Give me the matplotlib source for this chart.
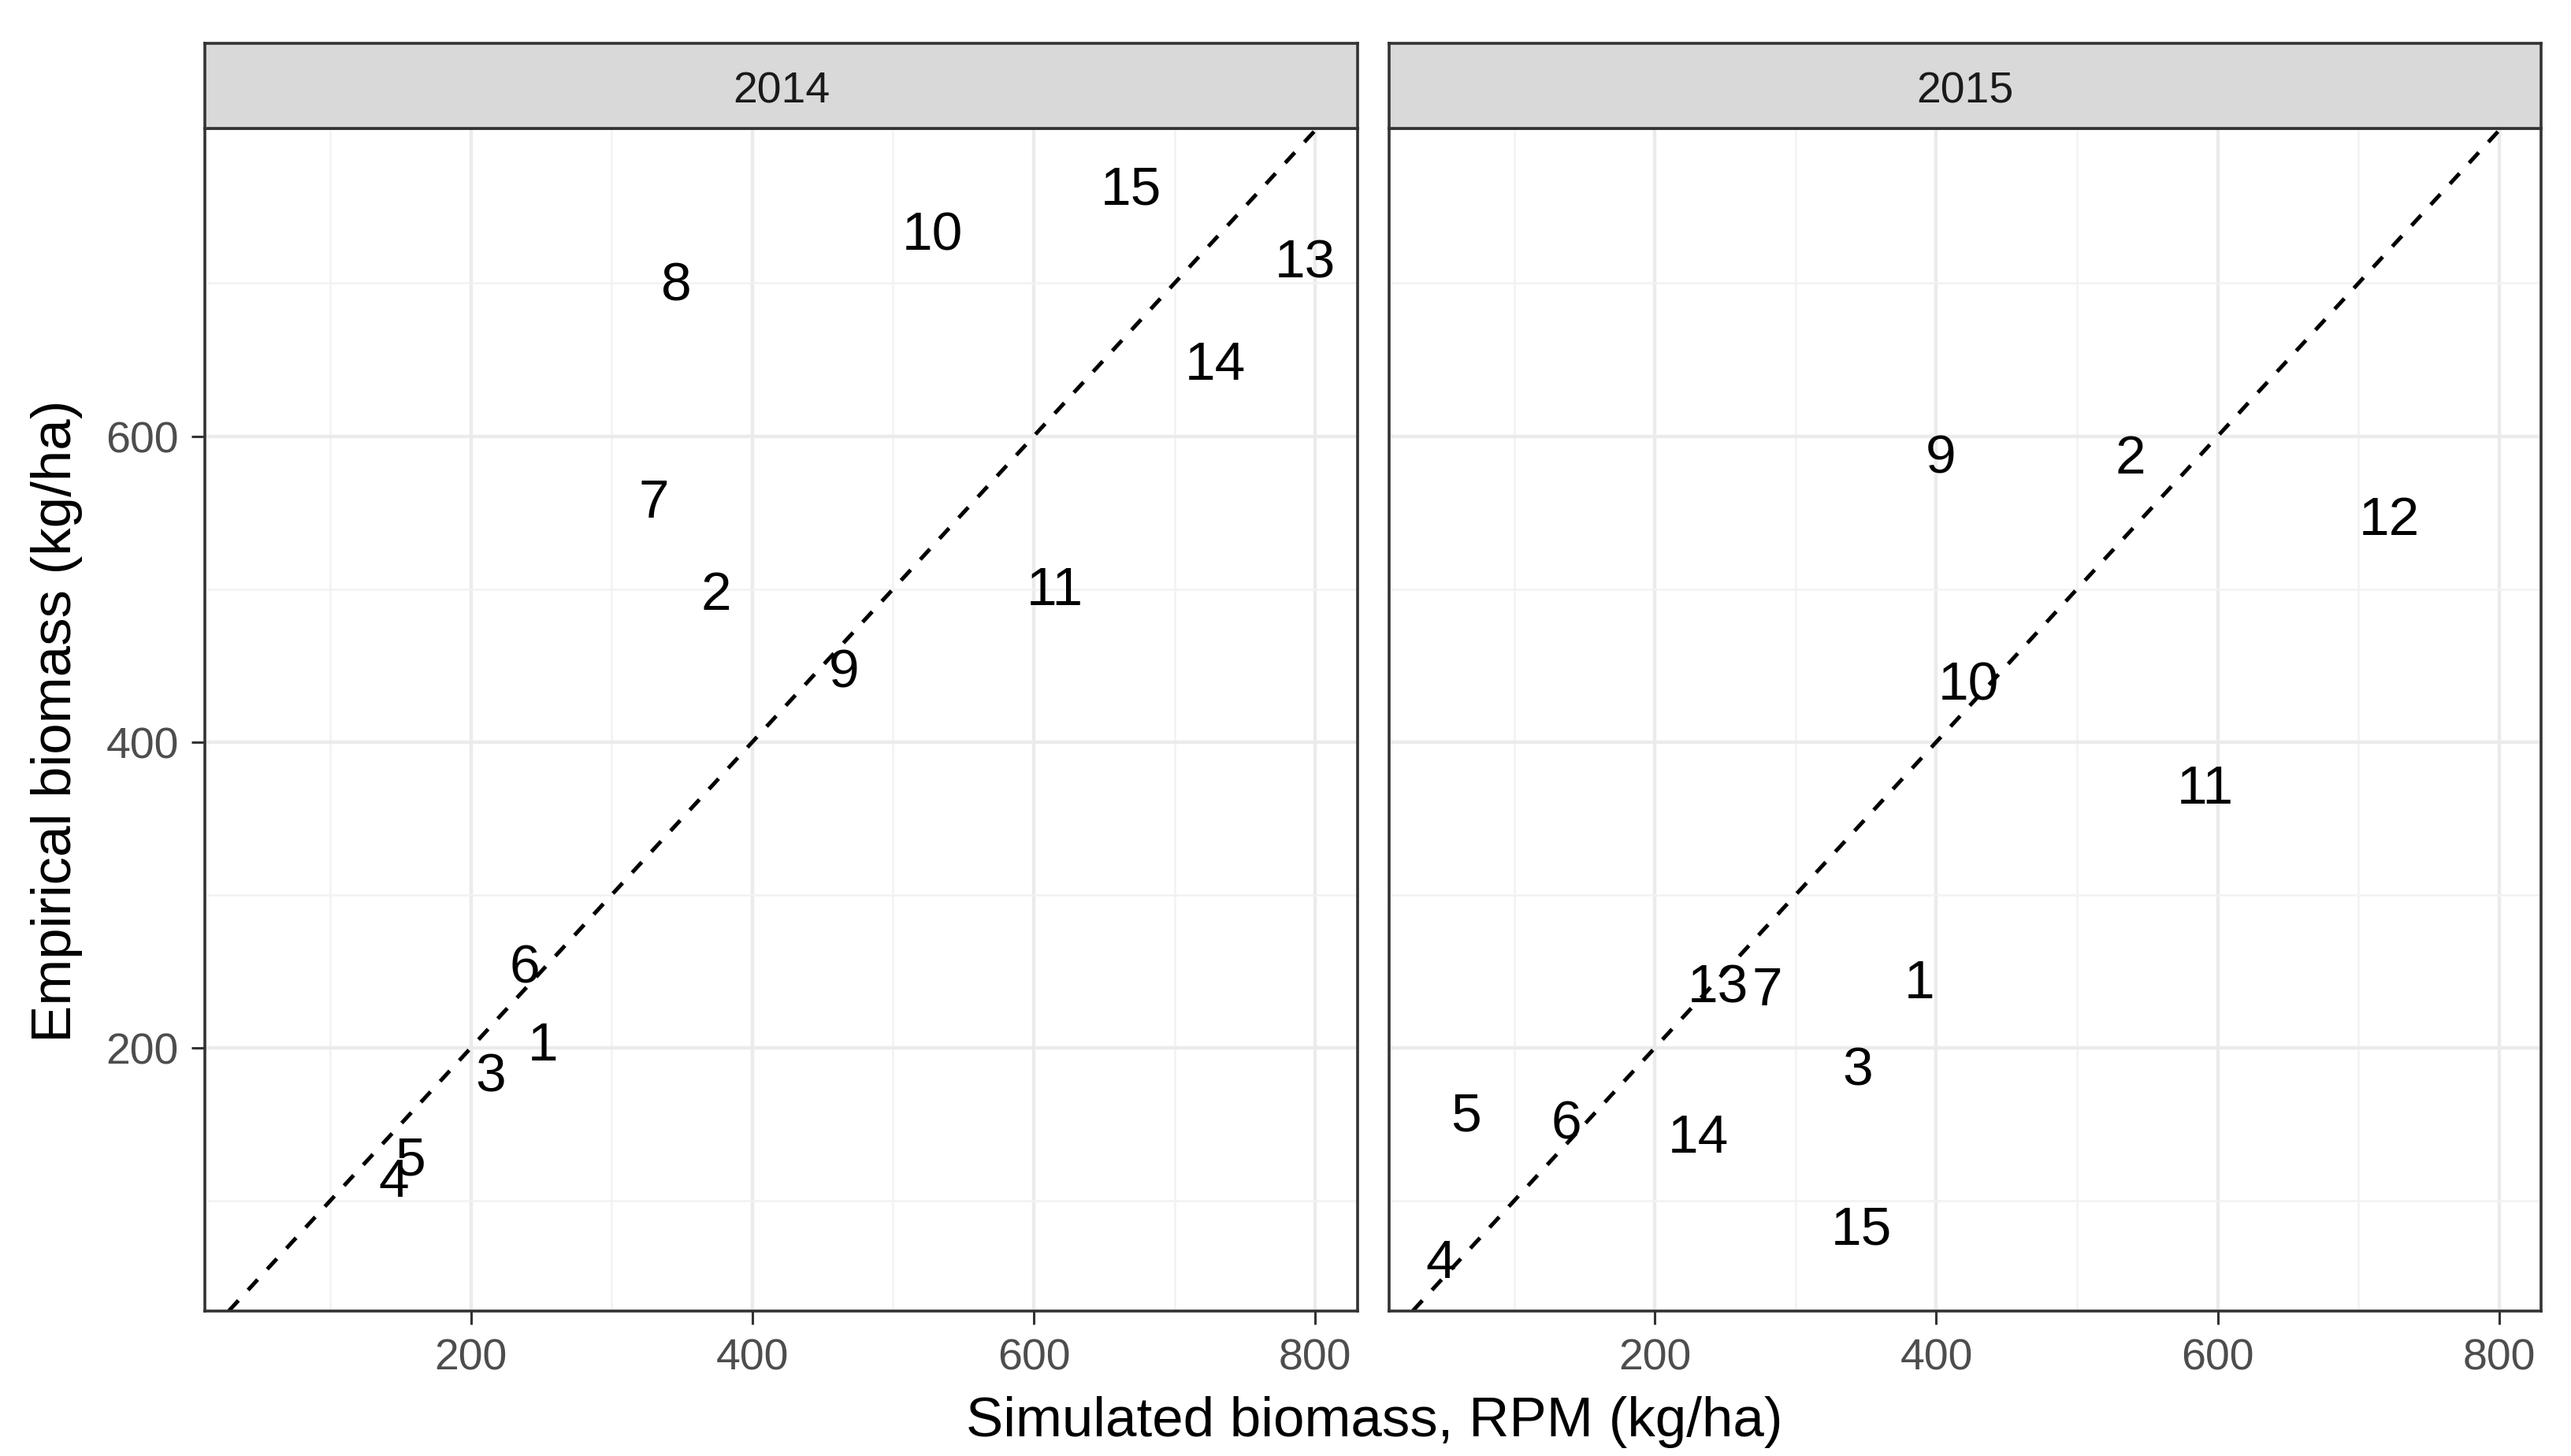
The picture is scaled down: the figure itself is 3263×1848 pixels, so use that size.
import matplotlib
matplotlib.use('Agg')
import matplotlib.pyplot as plt

plt.rcParams['font.family'] = ['Liberation Sans', 'DejaVu Sans']

# plot ids and values per year
ids_2014 = ['1', '2', '3', '4', '5', '6', '7', '8', '9', '10', '11', '13', '14', '15']
sim_2014 = [251, 374, 214, 145, 157, 238, 330, 346, 465, 528, 615, 793, 729, 669]
emp_2014 = [205, 500, 185, 116, 130, 256, 560, 702, 449, 735, 503, 717, 650, 765]

ids_2015 = ['1', '2', '3', '4', '5', '6', '7', '9', '10', '11', '12', '13', '14', '15']
sim_2015 = [388, 538, 344, 48, 66, 137, 280, 403, 423, 591, 722, 245, 231, 347]
emp_2015 = [246, 589, 189, 63, 159, 154, 241, 589, 441, 373, 549, 243, 145, 85]

YEARS = ['2014', '2015']
XLIM = (11, 830)
YLIM = (28, 801)

fig = plt.figure(figsize=(3263 / 200, 1849 / 200), dpi=200)

panels = [(0.0797, 0.4483), (0.5402, 0.4483)]
bottom, height = 0.0996, 0.8115
strip_h = 0.0585

data = [(ids_2014, sim_2014, emp_2014), (ids_2015, sim_2015, emp_2015)]

for i, (left, width) in enumerate(panels):
    ax = fig.add_axes([left, bottom, width, height])
    ids, xs, ys = data[i]

    ax.set_xlim(*XLIM)
    ax.set_ylim(*YLIM)

    # grid like theme_bw
    ax.set_xticks([200, 400, 600, 800])
    ax.set_yticks([200, 400, 600])
    ax.set_xticks([100, 300, 500, 700], minor=True)
    ax.set_yticks([100, 300, 500, 700], minor=True)
    ax.grid(which='major', color='#EBEBEB', lw=1.6)
    ax.grid(which='minor', color='#F2F2F2', lw=0.9)
    ax.set_axisbelow(True)

    ax.axline((0, 0), slope=1, color='black', ls=(0, (3.6, 3.6)), lw=1.8, zorder=2)

    for lab, x, y in zip(ids, xs, ys):
        ax.text(x, y, lab, ha='center', va='center_baseline', fontsize=25, color='black', zorder=3)

    for s in ax.spines.values():
        s.set_color('#333333')
        s.set_linewidth(1.3)

    ax.tick_params(which='major', length=6, width=1.1, color='#333333',
                   labelsize=20, labelcolor='#4D4D4D', pad=6)
    ax.tick_params(which='minor', length=0)
    if i == 1:
        ax.tick_params(axis='y', labelleft=False, length=0)

    # facet strip
    sax = fig.add_axes([left, bottom + height, width, strip_h])
    sax.set_facecolor('#D9D9D9')
    sax.set_xticks([])
    sax.set_yticks([])
    for s in sax.spines.values():
        s.set_color('#333333')
        s.set_linewidth(1.3)
    sax.text(0.5, 0.5, YEARS[i], ha='center', va='center_baseline', fontsize=20,
             color='#1A1A1A', transform=sax.transAxes)

fig.text(0.5345, 0.024, 'Simulated biomass, RPM (kg/ha)', ha='center', va='center', fontsize=25.5)
fig.text(0.022, 0.505, 'Empirical biomass (kg/ha)', ha='center', va='center',
         rotation=90, fontsize=25.5)

fig.savefig('out.png', dpi=200)
